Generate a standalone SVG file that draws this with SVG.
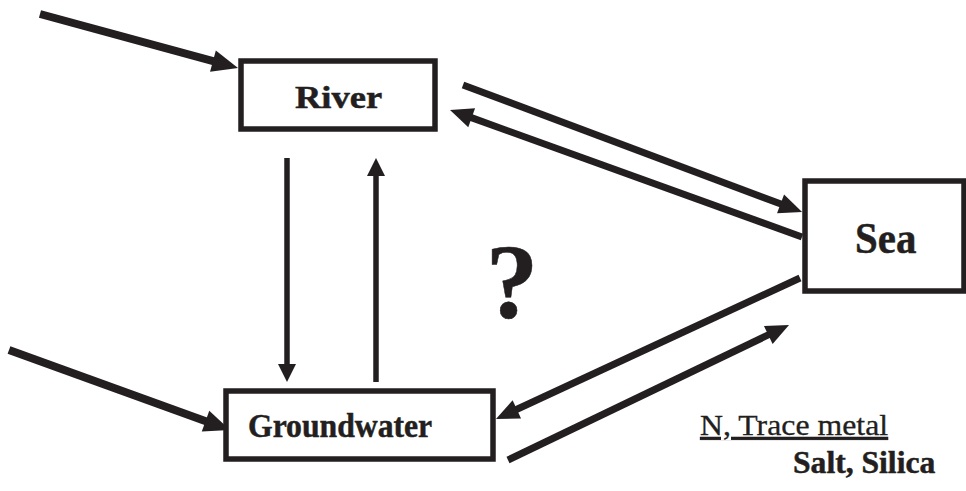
<svg xmlns="http://www.w3.org/2000/svg" width="966" height="491" viewBox="0 0 966 491">
<style>
.box{fill:#fff;stroke:#231f20;stroke-width:5.5}
.ln{stroke:#231f20;fill:none}
.in{stroke-width:8;marker-end:url(#hBig)}
.dg{stroke-width:7;marker-end:url(#hMed)}
.vt{stroke-width:5.5;marker-end:url(#hSm)}
.lbl{font-family:"Liberation Serif","Times New Roman",serif;font-weight:bold;fill:#231f20;stroke:#231f20;stroke-width:0.5}
.note{font-family:"Liberation Serif","Times New Roman",serif;fill:#231f20;stroke:#231f20;stroke-width:0.3}
</style>
<defs>
<marker id="hBig" markerUnits="userSpaceOnUse" orient="auto" refX="4" refY="0" markerWidth="30" markerHeight="24" overflow="visible"><path d="M0,-11 L26,0 L0,11 z" fill="#231f20"/></marker>
<marker id="hMed" markerUnits="userSpaceOnUse" orient="auto" refX="4" refY="0" markerWidth="26" markerHeight="20" overflow="visible"><path d="M0,-10 L23,0 L0,10 z" fill="#231f20"/></marker>
<marker id="hSm" markerUnits="userSpaceOnUse" orient="auto" refX="3" refY="0" markerWidth="20" markerHeight="18" overflow="visible"><path d="M0,-9 L18,0 L0,9 z" fill="#231f20"/></marker>
</defs>
<rect width="966" height="491" fill="#fff"/>
<g id="connectors">
<line class="ln in" x1="40" y1="14" x2="216.8" y2="62.2"/>
<line class="ln in" x1="9" y1="350" x2="209.3" y2="422.5"/>
<line class="ln dg" x1="463" y1="85" x2="784.3" y2="205.3"/>
<line class="ln dg" x1="802" y1="237" x2="467.9" y2="116.4"/>
<line class="ln dg" x1="800" y1="278" x2="513.2" y2="411"/>
<line class="ln dg" x1="508" y1="460" x2="771.9" y2="333.2"/>
<line class="ln vt" x1="287" y1="158" x2="287" y2="367"/>
<line class="ln vt" x1="376" y1="382" x2="376" y2="173"/>
</g>
<g id="river">
<rect class="box" x="241" y="61" width="194" height="68"/>
<text class="lbl" transform="translate(295,108) scale(1.14,1)" x="0" y="0" font-size="32">River</text>
</g>
<g id="groundwater">
<rect class="box" x="226" y="391" width="267" height="68"/>
<text class="lbl" transform="translate(248,437) scale(0.96,1)" x="0" y="0" font-size="33">Groundwater</text>
</g>
<g id="sea">
<rect class="box" x="805" y="181" width="159" height="110"/>
<text class="lbl" transform="translate(855,253) scale(0.93,1)" x="0" y="0" font-size="44">Sea</text>
</g>
<g id="question">
<text class="lbl" x="512" y="318" font-size="105" text-anchor="middle">?</text>
</g>
<g id="legend">
<text class="note" transform="translate(700,435) scale(1.06,1)" x="0" y="0" font-size="30" text-decoration="underline">N, Trace metal</text>
<text class="lbl" transform="translate(793,473) scale(1.02,1)" x="0" y="0" font-size="31">Salt, Silica</text>
</g>
</svg>
